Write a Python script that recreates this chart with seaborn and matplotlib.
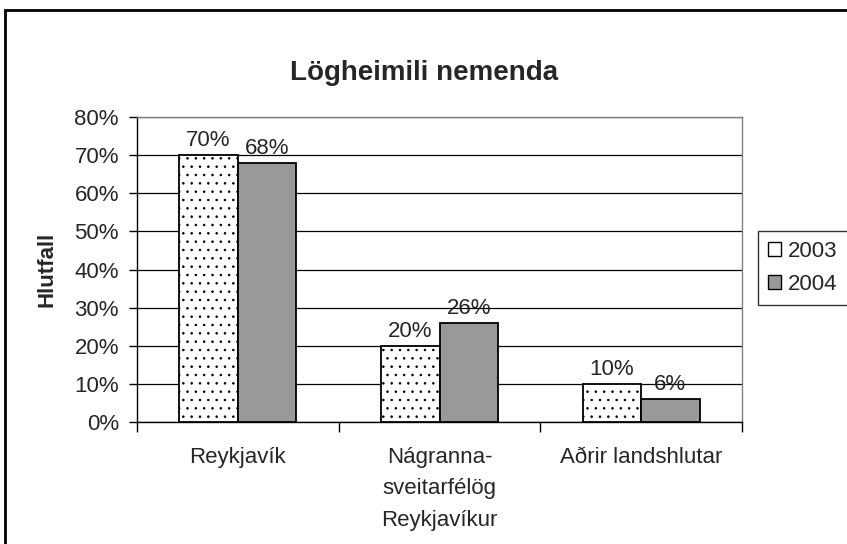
import matplotlib
matplotlib.use('Agg')
import matplotlib.pyplot as plt
import matplotlib.patches as mpatches
import pandas as pd
import seaborn as sns

categories = ['Reykjavík', 'Nágranna-\nsveitarfélög\nReykjavíkur', 'Aðrir landshlutar']
years = ['2003', '2004']
vals_2003 = [70, 20, 10]
vals_2004 = [68, 26, 6]
yticks = [0, 10, 20, 30, 40, 50, 60, 70, 80]

df = pd.DataFrame({
    'cat': categories * 2,
    'year': [years[0]] * 3 + [years[1]] * 3,
    'val': vals_2003 + vals_2004,
})

sns.set_style('white')
plt.rcParams['font.family'] = ['Liberation Sans', 'DejaVu Sans']
plt.rcParams['hatch.linewidth'] = 0.6
plt.rcParams['hatch.color'] = '#333333'

FS = 16

fig = plt.figure(figsize=(8.47, 5.44), dpi=100)
ax = fig.add_axes([137 / 847, 1 - 422 / 544, (742 - 137) / 847, (422 - 117) / 544])

sns.barplot(data=df, x='cat', y='val', hue='year', palette=['white', '#999999'],
            width=0.58, gap=0, edgecolor='black', linewidth=1.3, saturation=1,
            ax=ax, legend=False, zorder=3)

# dotted fill for the 2003 bars
for p in ax.containers[0]:
    p.set_hatch('..')

for c in ax.containers:
    ax.bar_label(c, labels=[f'{int(round(v))}%' for v in c.datavalues],
                 padding=3, fontsize=FS)

ax.set_ylim(0, 80)
ax.set_xlim(-0.5, 2.5)
ax.set_yticks(yticks)
ax.set_yticklabels([f'{t}%' for t in yticks], fontsize=FS)
ax.yaxis.grid(True, color='black', linewidth=0.9, zorder=0)
ax.set_axisbelow(True)
ax.tick_params(axis='y', left=True, length=6, width=1, color='black', pad=7)

ax.set_xticks(range(3))
ax.set_xticklabels(categories, fontsize=FS, linespacing=1.65, va='top')
ax.set_xticks([-0.5, 0.5, 1.5, 2.5], minor=True)
ax.tick_params(axis='x', which='major', length=0, pad=18)
ax.tick_params(axis='x', which='minor', bottom=True, length=7, width=1, color='black')

for s in ['top', 'right']:
    ax.spines[s].set_color('#808080')
    ax.spines[s].set_linewidth(1)
for s in ['left', 'bottom']:
    ax.spines[s].set_color('black')
    ax.spines[s].set_linewidth(1)

ax.set_xlabel('')
ax.set_ylabel('Hlutfall', fontsize=FS, fontweight='bold', labelpad=12)

fig.text(424 / 847, 1 - 73 / 544, 'Lögheimili nemenda', ha='center', va='center',
         fontsize=20, fontweight='bold')

handles = [mpatches.Patch(facecolor='white', edgecolor='black', label=years[0]),
           mpatches.Patch(facecolor='#999999', edgecolor='black', label=years[1])]
leg = fig.legend(handles=handles, loc='center left', bbox_to_anchor=(758 / 847, 1 - 268 / 544),
                 fontsize=FS, frameon=True, fancybox=False, handlelength=0.6, handleheight=0.6,
                 handletextpad=0.3, borderpad=0.45, labelspacing=0.55, borderaxespad=0)
leg.get_frame().set_edgecolor('black')
leg.get_frame().set_linewidth(1)

# outer chart border, clipped at right and bottom as in the original
fig.patches.append(mpatches.Rectangle((5 / 847, -0.1), 1.2, 1 - 10 / 544 + 0.1,
                                      transform=fig.transFigure, fill=False,
                                      edgecolor='black', linewidth=2))

fig.savefig('out.png', dpi=100)
